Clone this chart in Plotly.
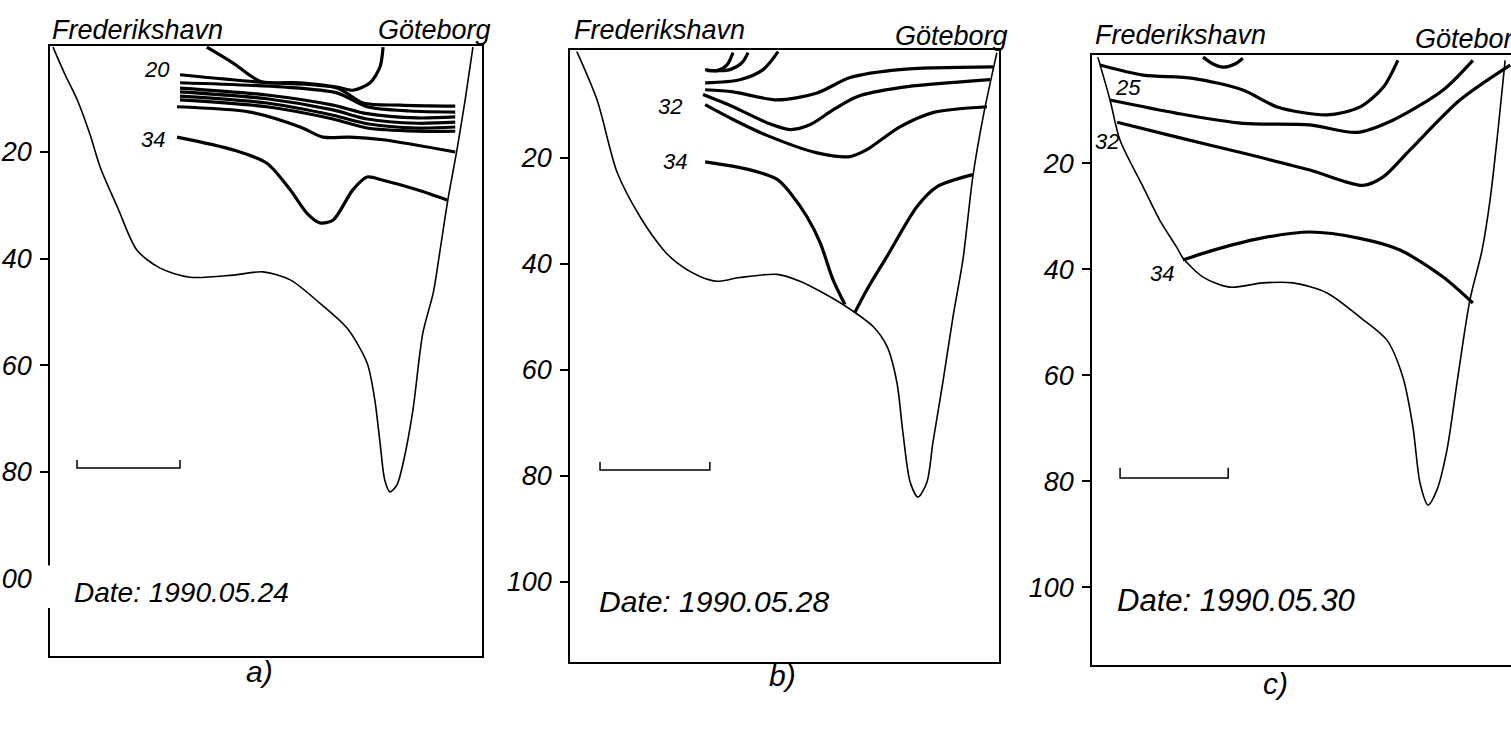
import plotly.graph_objects as go

W, H = 1511, 731
FONT = "Liberation Sans, Arial, sans-serif"

# ---------------- data (x = % of section width, d = depth in m) ----------------
# Panel a) 1990.05.24
bottom_a_x = [0.7, 3.5, 6.3, 9.3, 11.6, 15.7, 20.1, 25.5, 32.4, 42.4, 49.3, 55.6, 62.5, 68.8, 73.4,
              75.2, 76.4, 77.5, 78.7, 80.3, 81.9, 84.0, 86.3, 88.7, 90.3, 92.1, 94.2, 96.1, 97.9]
bottom_a_d = [0.3, 5.5, 10.2, 16.8, 22.8, 30.5, 38.4, 41.8, 43.5, 43.1, 42.5, 44.0, 48.4, 53.1, 59.6,
              66.6, 74.6, 81.6, 83.8, 82.5, 77.8, 68.5, 54.0, 46.5, 38.4, 29.0, 19.6, 10.2, 0.3]
iso_a = [
    ([36.3, 42.4, 48.6, 57.9, 66.4, 70.1, 74.1, 76.4, 77.1], [0.3, 3.3, 6.7, 7.0, 7.8, 8.4, 7.0, 4.0, 0.3]),
    ([30.1, 48.6, 66.4, 72.5, 81.0, 93.8], [5.5, 6.9, 8.0, 10.8, 11.2, 11.4]),
    ([30.1, 53.9, 66.4, 73.4, 83.3, 93.8], [7.0, 7.8, 8.9, 11.5, 12.3, 12.5]),
    ([30.1, 50.2, 65.5, 73.4, 85.0, 93.8], [8.0, 9.3, 11.2, 12.8, 13.6, 13.4]),
    ([30.1, 50.2, 65.5, 73.4, 85.0, 93.8], [8.7, 10.0, 12.1, 13.8, 14.6, 14.4]),
    ([30.1, 50.2, 65.5, 73.4, 85.0, 93.8], [9.5, 10.8, 13.1, 14.7, 15.5, 15.3]),
    ([30.1, 50.2, 65.5, 73.4, 85.0, 93.8], [10.2, 11.5, 13.8, 15.5, 16.1, 16.1]),
    ([29.4, 46.3, 57.9, 63.2, 69.4, 77.1, 93.8], [11.5, 12.5, 15.3, 17.2, 17.2, 17.7, 20.0]),
    ([29.4, 42.4, 50.2, 55.6, 59.5, 62.5, 65.5, 70.1, 73.4, 77.1, 85.0, 91.9],
     [17.2, 19.6, 22.1, 27.1, 31.5, 33.3, 32.8, 27.1, 24.7, 25.3, 27.1, 29.0]),
]
labels_a = [("20", 24.8, 4.6), ("34", 23.8, 17.7)]
scalebar_a = ([6.25, 6.25, 30.1, 30.1], [77.8, 79.3, 79.3, 77.8])

# Panel b) 1990.05.28
bottom_b_x = [1.6, 6.3, 11.0, 16.3, 21.7, 24.9, 30.3, 34.3, 39.6, 48.3, 53.6, 58.3, 64.6, 70.6,
              73.9, 76.2, 77.6, 79.3, 81.1, 83.2, 84.6, 86.9, 89.3, 91.6, 93.9, 96.3, 99.5]
bottom_b_d = [0.0, 9.1, 22.8, 31.1, 37.3, 39.8, 42.4, 43.3, 42.6, 42.0, 43.3, 45.2, 48.2, 51.8,
              55.6, 62.4, 71.8, 81.2, 84.0, 81.2, 73.7, 62.4, 49.9, 39.2, 23.6, 12.3, 0.2]
iso_b = [
    ([31.5, 34.3, 36.6, 38.0], [3.4, 3.6, 2.5, 0.2]),
    ([31.9, 37.3, 40.1, 41.5], [3.6, 3.4, 2.1, 0.2]),
    ([31.5, 39.6, 45.0, 48.5], [5.9, 5.3, 3.4, 0.0]),
    ([31.5, 38.0, 48.3, 57.6, 65.3, 76.9, 98.6], [7.2, 7.6, 9.1, 7.8, 4.9, 3.4, 2.9]),
    ([31.0, 38.0, 45.9, 51.3, 55.9, 61.3, 66.9, 76.9, 97.9], [8.1, 10.4, 13.4, 14.7, 13.8, 11.0, 8.5, 6.8, 5.3]),
    ([31.5, 38.0, 45.9, 57.6, 65.3, 69.2, 76.9, 84.6, 97.2], [10.0, 12.8, 15.8, 19.1, 19.8, 18.5, 14.2, 11.5, 10.4]),
    ([31.5, 42.0, 48.3, 51.3, 55.2, 58.3, 61.3, 64.1], [20.8, 22.3, 24.1, 26.6, 31.1, 36.0, 43.0, 47.7]),
    ([66.4, 69.2, 73.9, 80.9, 85.5, 93.9], [49.2, 44.9, 38.6, 29.2, 25.5, 23.2]),
]
labels_b = [("32", 23.3, 10.4), ("34", 24.5, 20.8)]
scalebar_b = ([7.0, 7.0, 32.6, 32.6], [77.4, 78.9, 78.9, 77.4])

# Panel c) 1990.05.30
bottom_c_x = [1.4, 4.3, 6.7, 12.2, 16.2, 20.3, 21.7, 26.5, 32.9, 40.8, 48.0, 56.1, 64.0, 70.4, 74.2,
              76.6, 78.3, 80.2, 82.3, 84.7, 87.1, 90.2, 93.1, 95.0, 96.9, 98.6]
bottom_c_d = [0.0, 8.1, 15.7, 24.5, 30.8, 36.0, 37.9, 41.5, 43.4, 42.6, 42.6, 44.5, 49.1, 53.4, 60.4,
              69.8, 80.4, 84.5, 81.7, 74.2, 61.5, 45.8, 36.4, 27.0, 13.8, 0.6]
iso_c = [
    ([26.5, 28.9, 31.3, 34.1, 36.0], [0.0, 1.3, 1.9, 1.3, 0.2]),
    ([1.9, 12.2, 24.1, 36.0, 44.2, 56.1, 64.0, 69.5, 73.0], [1.5, 3.4, 4.0, 6.2, 9.4, 10.9, 9.4, 5.7, 0.6]),
    ([4.3, 20.3, 36.0, 52.0, 63.2, 71.8, 83.8, 90.9], [8.1, 10.6, 12.5, 12.8, 14.2, 11.9, 6.2, 0.6]),
    ([6.0, 20.3, 36.0, 52.0, 64.7, 69.5, 75.9, 87.8, 99.8], [12.3, 15.1, 18.1, 21.3, 24.2, 22.6, 17.5, 8.1, 1.5]),
    ([21.7, 28.2, 40.1, 52.0, 63.9, 73.5, 83.8, 90.9], [38.3, 36.6, 34.2, 33.0, 34.2, 36.4, 41.5, 46.4]),
]
labels_c = [("25", 8.6, 5.7), ("32", 3.6, 16.0), ("34", 16.7, 40.8)]
scalebar_c = ([6.7, 6.7, 32.5, 32.5], [77.5, 79.4, 79.4, 77.5])

dates = ["Date: 1990.05.24", "Date: 1990.05.28", "Date: 1990.05.30"]
date_pos = [(5.1, 102.6), (6.3, 103.6), (5.5, 102.5)]
date_size = [28, 30, 31]
panel_letters = ["a)", "b)", "c)"]
depth_ticks = [20, 40, 60, 80, 100]
port_left, port_right = "Frederikshavn", "Göteborg"

# ---------------- layout geometry (pixels) ----------------
frames = [  # left, right, top, bottom (px), depth at top, depth at bottom
    (50, 482, 46, 656, 0.1, 114.6),
    (570, 999, 50, 662, -0.3, 115.1),
    (1092, 1511, 55, 665, -0.4, 114.7),
]
letter_px = [(244, 690), (782, 694), (1290, 702)]
title_shift = [(16, 16, 0, 11), (20, 14, 2, 11), (20, 16, 1, None)]

panels = [
    (bottom_a_x, bottom_a_d, iso_a, labels_a, scalebar_a),
    (bottom_b_x, bottom_b_d, iso_b, labels_b, scalebar_b),
    (bottom_c_x, bottom_c_d, iso_c, labels_c, scalebar_c),
]

fig = go.Figure()
annotations = []
shapes = []
for i, (bx, bd, isos, labs, sb) in enumerate(panels):
    sfx = "" if i == 0 else str(i + 1)
    xa, ya = "x" + sfx, "y" + sfx
    fig.add_trace(go.Scatter(x=bx, y=bd, mode="lines", xaxis=xa, yaxis=ya,
                             line=dict(color="black", width=1.6, shape="spline", smoothing=0.8),
                             hoverinfo="skip", showlegend=False))
    for (ix, idp) in isos:
        fig.add_trace(go.Scatter(x=ix, y=idp, mode="lines", xaxis=xa, yaxis=ya,
                                 line=dict(color="black", width=3.2, shape="spline", smoothing=0.8),
                                 hoverinfo="skip", showlegend=False))
    fig.add_trace(go.Scatter(x=sb[0], y=sb[1], mode="lines", xaxis=xa, yaxis=ya,
                             line=dict(color="black", width=1.5),
                             hoverinfo="skip", showlegend=False))
    for (t, lx, ld) in labs:
        annotations.append(dict(text=t, x=lx, y=ld, xref=xa, yref=ya, showarrow=False,
                                font=dict(family=FONT, size=22, style="italic", color="black")))
    annotations.append(dict(text=dates[i], x=date_pos[i][0], y=date_pos[i][1], xref=xa, yref=ya,
                            xanchor="left", yanchor="middle", showarrow=False,
                            font=dict(family=FONT, size=date_size[i], style="italic", color="black")))
    l, r, t, b, dt, db = frames[i]
    fig.layout["xaxis" + sfx] = dict(domain=[l / W, r / W], range=[0, 100], anchor=ya,
                                     showline=True, mirror=True, linecolor="black", linewidth=1.6,
                                     showgrid=False, zeroline=False, showticklabels=False, ticks="",
                                     automargin=False, fixedrange=True)
    fig.layout["yaxis" + sfx] = dict(domain=[1 - b / H, 1 - t / H], range=[db, dt], anchor=xa,
                                     showline=True, mirror=True, linecolor="black", linewidth=1.6,
                                     showgrid=False, zeroline=False, tickmode="array",
                                     tickvals=depth_ticks, ticktext=[str(v) for v in depth_ticks],
                                     ticks="outside", ticklen=8, tickwidth=1.5, tickcolor="black",
                                     ticklabelstandoff=3, automargin=False, fixedrange=True,
                                     tickfont=dict(family=FONT, size=27, style="italic", color="black"))
    ys_l, ys_r, xs_l, xs_r = title_shift[i]
    annotations.append(dict(text=port_left, x=0, y=1, xref=xa + " domain", yref=ya + " domain",
                            xanchor="left", yanchor="middle", xshift=xs_l, yshift=ys_l, showarrow=False,
                            font=dict(family=FONT, size=27, style="italic", color="black")))
    if xs_r is not None:
        annotations.append(dict(text=port_right, x=1, y=1, xref=xa + " domain", yref=ya + " domain",
                                xanchor="right", yanchor="middle", xshift=xs_r, yshift=ys_r, showarrow=False,
                                font=dict(family=FONT, size=27, style="italic", color="black")))
    else:
        annotations.append(dict(text=port_right, x=1, y=1, xref=xa + " domain", yref=ya + " domain",
                                xanchor="left", yanchor="middle", xshift=-98, yshift=ys_r, showarrow=False,
                                font=dict(family=FONT, size=27, style="italic", color="black")))
    annotations.append(dict(text=panel_letters[i], x=letter_px[i][0] / W, y=1 - letter_px[i][1] / H,
                            xref="paper", yref="paper", showarrow=False,
                            font=dict(family=FONT, size=30, style="italic", color="black")))

# gap in the left axis line of panel a (as in the scan)
shapes.append(dict(type="rect", xref="x domain", yref="y", x0=-0.03, x1=0.01, y0=97.6, y1=105.6,
                   fillcolor="white", line=dict(width=0), layer="above"))

fig.update_layout(width=W, height=H, margin=dict(l=0, r=0, t=0, b=0, autoexpand=False),
                  paper_bgcolor="white", plot_bgcolor="white",
                  annotations=annotations, shapes=shapes, showlegend=False)
fig.write_html("out.html", config={"displayModeBar": False},
               post_script="document.body.style.margin='0';document.body.style.overflow='hidden';")
